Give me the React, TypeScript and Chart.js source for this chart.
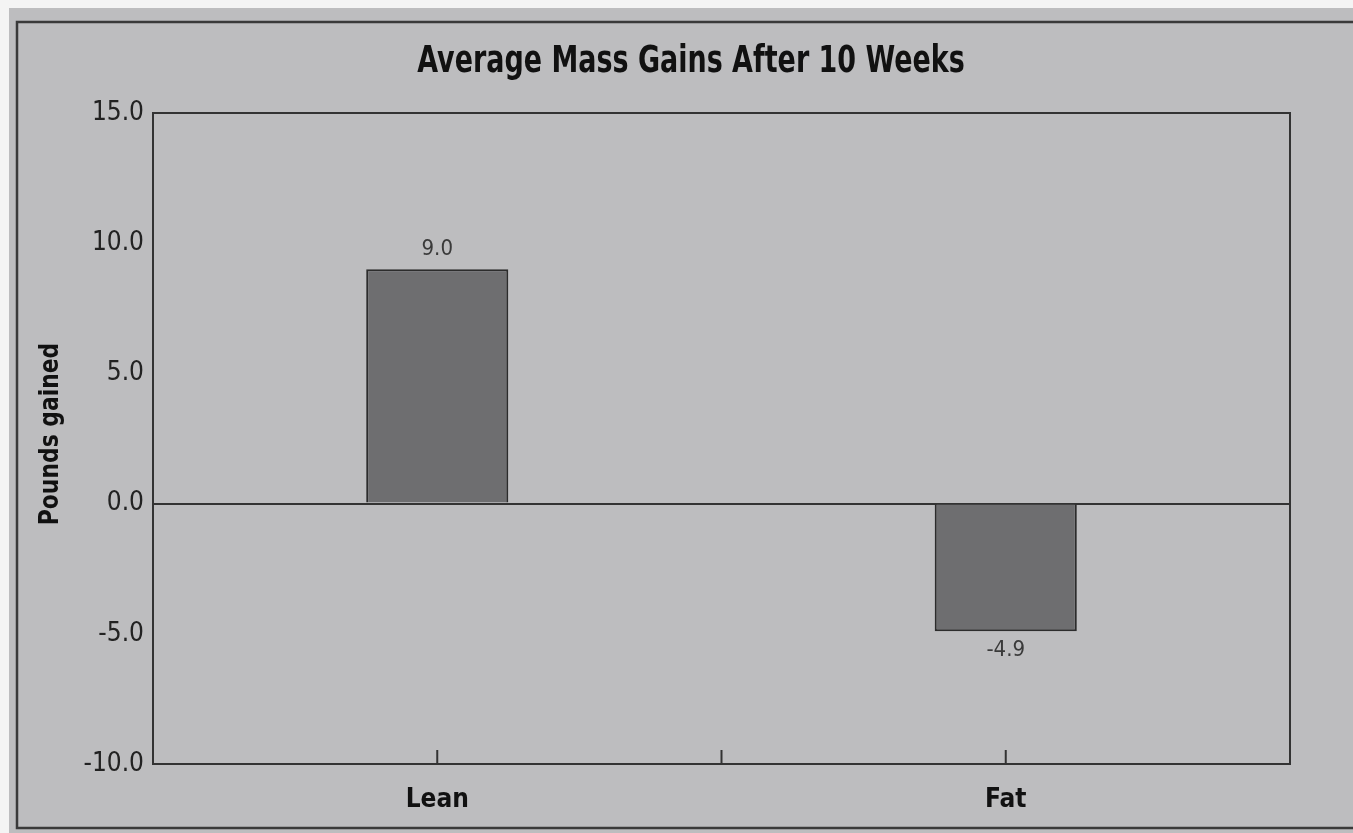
import React, { useEffect, useRef } from "react";
import { Chart, registerables } from "chart.js";

Chart.register(...registerables);

const categories = ["Lean", "Fat"];
const poundsGained = [9.0, -4.9];
const valueLabels = ["9.0", "-4.9"];
const yTicks = [-10, -5, 0, 5, 10, 15];
const chartTitle = "Average Mass Gains After 10 Weeks";
const yTitle = "Pounds gained";

const NARROW = '"Liberation Sans Narrow", "DejaVu Sans Condensed", "Liberation Sans", sans-serif';

const framePlugin = {
  id: "frame",
  beforeDraw(chart: any) {
    const { ctx, width, height } = chart;
    ctx.save();
    ctx.fillStyle = "#f4f4f4";
    ctx.fillRect(0, 0, width, height);
    ctx.fillStyle = "#bdbdbf";
    ctx.fillRect(9, 8, width - 9, height - 8);
    ctx.strokeStyle = "#3a3a3a";
    ctx.lineWidth = 2.5;
    ctx.strokeRect(17, 22, width + 20, 806);
    ctx.restore();
  },
  afterDraw(chart: any) {
    const { ctx, chartArea } = chart;
    const x = chart.scales.x;
    ctx.save();
    ctx.strokeStyle = "#333";
    ctx.lineWidth = 2;
    ctx.strokeRect(chartArea.left, chartArea.top, chartArea.right - chartArea.left, chartArea.bottom - chartArea.top);
    // x tick marks at category centres and between categories
    const p0 = x.getPixelForValue(0);
    const p1 = x.getPixelForValue(1);
    const marks = [p0, (p0 + p1) / 2, p1];
    marks.forEach((m) => {
      ctx.beginPath();
      ctx.moveTo(m, chartArea.bottom);
      ctx.lineTo(m, chartArea.bottom - 14);
      ctx.stroke();
    });
    // title (horizontally condensed)
    ctx.fillStyle = "#111";
    ctx.textAlign = "center";
    ctx.textBaseline = "middle";
    ctx.save();
    ctx.translate(691, 62);
    ctx.scale(0.81, 1);
    ctx.font = "bold 37px " + NARROW;
    ctx.fillText(chartTitle, 0, 0);
    ctx.restore();
    // y title
    ctx.save();
    ctx.translate(51, 434);
    ctx.rotate(-Math.PI / 2);
    ctx.scale(0.9, 1);
    ctx.font = "bold 27px " + NARROW;
    ctx.fillText(yTitle, 0, 0);
    ctx.restore();
    // value labels
    const meta = chart.getDatasetMeta(0);
    ctx.font = "22px " + NARROW;
    ctx.fillStyle = "#3a3a3a";
    meta.data.forEach((bar: any, i: number) => {
      const v = poundsGained[i];
      if (v >= 0) {
        ctx.textBaseline = "bottom";
        ctx.fillText(valueLabels[i], bar.x, bar.y - 9);
      } else {
        ctx.textBaseline = "top";
        ctx.fillText(valueLabels[i], bar.x, bar.y + 8);
      }
    });
    ctx.restore();
  },
};

export default function App() {
  const ref = useRef<HTMLCanvasElement>(null);
  useEffect(() => {
    document.body.style.margin = "0";
    const chart = new Chart(ref.current!, {
      type: "bar",
      data: {
        labels: categories,
        datasets: [
          {
            data: poundsGained,
            backgroundColor: "#6e6e70",
            borderColor: "#2c2c2c",
            borderWidth: 2,
            barPercentage: 0.25,
            categoryPercentage: 1,
          },
        ],
      },
      options: {
        responsive: false,
        animation: false,
        layout: { padding: { top: 113, right: 63, bottom: 0, left: 0 } },
        plugins: { legend: { display: false }, title: { display: false }, tooltip: { enabled: false } },
        scales: {
          x: {
            grid: { display: false, drawTicks: false },
            border: { display: true, color: "#333", width: 2 },
            ticks: { color: "#111", font: { family: NARROW, size: 26, weight: "bold" }, padding: 21 },
            afterFit: (s: any) => { s.height = 69; },
          },
          y: {
            min: -10,
            max: 15,
            afterBuildTicks: (s: any) => { s.ticks = yTicks.map((v) => ({ value: v })); },
            grid: {
              drawTicks: false,
              color: (c: any) => (c.tick && c.tick.value === 0 ? "#333" : "rgba(0,0,0,0)"),
              lineWidth: 2,
            },
            border: { display: true, color: "#333", width: 2 },
            ticks: {
              color: "#222",
              font: { family: NARROW, size: 26 },
              padding: 9,
              callback: (v: any) => Number(v).toFixed(1),
            },
            afterFit: (s: any) => { s.width = 153; },
          },
        },
      },
      plugins: [framePlugin],
    });
    return () => chart.destroy();
  }, []);
  return (
    <div style={{ position: "absolute", left: 0, top: 0, width: 1353, height: 833 }}>
      <canvas ref={ref} width={1353} height={833} />
    </div>
  );
}
